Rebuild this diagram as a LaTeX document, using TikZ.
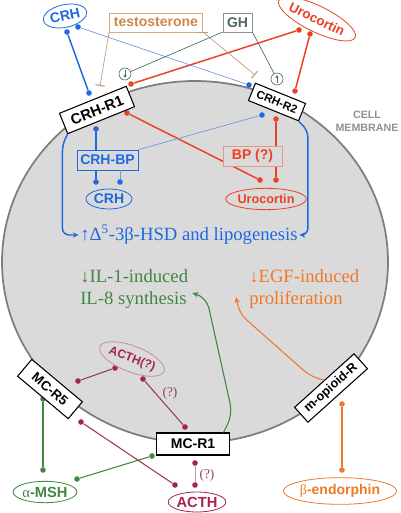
\documentclass[tikz,border=0pt]{standalone}
\usepackage{fontspec}
\setmainfont{Liberation Serif}
\setsansfont{Liberation Sans}
\usetikzlibrary{shapes.geometric,arrows.meta}
\definecolor{crhblue}{RGB}{30,105,225}
\definecolor{crhpale}{RGB}{110,150,225}
\definecolor{ucred}{RGB}{235,65,35}
\definecolor{bpframe}{RGB}{235,150,130}
\definecolor{testo}{RGB}{205,135,75}
\definecolor{testoframe}{RGB}{215,170,130}
\definecolor{ghcol}{RGB}{75,105,105}
\definecolor{msh}{RGB}{65,135,65}
\definecolor{endo}{RGB}{240,120,40}
\definecolor{acth}{RGB}{165,35,80}
\definecolor{acthline}{RGB}{150,60,90}
\definecolor{cellfill}{RGB}{218,218,218}
\definecolor{membrane}{RGB}{125,125,125}

\begin{document}
\begin{tikzpicture}[
  x=0.75pt,y=-0.75pt,
  receptor/.style={draw,fill=white,line width=0.8pt,inner sep=1pt},
  ligand/.style={ellipse,draw,line width=0.6pt,inner sep=0pt},
  bdot/.style={circle,fill,inner sep=0pt,minimum size=4.2pt},
  sans/.style={font=\sffamily\bfseries\fontsize{#1}{#1}\selectfont},
  ]
  \tikzset{%
    thickline/.style={line width=1.1pt},
    midline/.style={line width=0.8pt},
    thinline/.style={line width=0.5pt},
    tip/.style={-{Stealth[length=4.5pt,width=4pt]}},
    block/.style={-{Bar[width=7pt,line width=0.8pt]}},
  }
  \useasboundingbox (0,0) rectangle (400,513);
  %Cell
  \draw[fill=cellfill,draw=membrane,line width=1.3pt] (195,262) ellipse (193 and 181);
  \node[font=\sffamily\bfseries\fontsize{8}{10}\selectfont,text=membrane!85,align=center](cm) at (367,121){CELL\\MEMBRANE};
  %Dots
  \node[bdot,crhblue](b1) at (67,32){};
  \node[bdot,crhblue](b2) at (89,93){};
  \node[bdot,crhblue](b3) at (78,27){};
  \node[bdot,crhblue](b4) at (249,85){};
  \node[bdot,crhblue](b5) at (96,129){};
  \node[bdot,crhblue](b6) at (96,182){};
  \node[bdot,crhblue](b7) at (120,182){};
  \node[bdot,crhblue](b8) at (262,115){};
  \node[bdot,ucred](r1) at (299,30){};
  \node[bdot,ucred](r2) at (131,84){};
  \node[bdot,ucred](r3) at (310,34){};
  \node[bdot,ucred](r4) at (295,91){};
  \node[bdot,ucred](r5) at (127,113){};
  \node[bdot,ucred](r6) at (260,180){};
  \node[bdot,ucred](r7) at (276,119){};
  \node[bdot,ucred](r8) at (276,180){};
  \node[bdot,acth](m1) at (115,368){};
  \node[bdot,acth](m2) at (78,381){};
  \node[bdot,acth](m3) at (143,379){};
  \node[bdot,acth](m4) at (185,427){};
  \node[bdot,acth](m5) at (81,422){};
  \node[bdot,acth](m6) at (175,485){};
  \node[bdot,acth](m7) at (195,463){};
  \node[bdot,acth](m8) at (195,485){};
  \node[bdot,msh](g1) at (43,399){};
  \node[bdot,msh](g2) at (43,470){};
  \node[bdot,msh](g3) at (152,456){};
  \node[bdot,msh](g4) at (77,479){};
  \node[bdot,endo](o1) at (342,404){};
  \node[bdot,endo](o2) at (342,470){};
  \coordinate (tA) at (100,86);
  \coordinate (tB) at (255,75);
  \coordinate (egfin) at (236,297);
  %Lines between dots
  \draw[-, thickline]
    (b1) edge[crhblue] (b2)
    (r1) edge[ucred] (r2)
    (r3) edge[ucred] (r4)
    (r5) edge[ucred] (r6)
    (r7) edge[ucred] (r8)
    ;
  \draw[-, midline]
    (g1) edge[msh] (g2)
    (g3) edge[msh] (g4)
    (o1) edge[endo] (o2)
    (m1) edge[acthline] (m2)
    (m3) edge[acthline] (m4)
    (m5) edge[acthline] (m6)
    ;
  \draw[-, thinline]
    (b3) edge[crhpale] (b4)
    (m7) edge[acthline!55] (m8)
    ;
  %Nodes
  \node[ligand,sans=10.5,draw=crhblue,text=crhblue,minimum width=33pt,minimum height=17pt,rotate=12](crhOut) at (65,16){CRH};
  \node[draw=testoframe,sans=10.5,text=testo,minimum width=70pt,minimum height=14pt,inner sep=1pt](testo) at (156,22.5){testosterone};
  \node[draw=ghcol!70,sans=10.5,text=ghcol,minimum width=22pt,minimum height=14pt,inner sep=1pt](gh) at (237.5,22.5){GH};
  \node[ligand,sans=10,draw=ucred,text=ucred,minimum width=49.5pt,minimum height=19.5pt,rotate=-26](ucOut) at (317,19){Urocortin};
  \node[receptor,sans=11,minimum width=54pt,minimum height=16.5pt,rotate=22](crhrOne) at (97,110){CRH-R1};
  \node[receptor,sans=8.5,minimum width=40.5pt,minimum height=14pt,rotate=-22](crhrTwo) at (277,102){CRH-R2};
  \node[circle,draw=ghcol,fill=white,line width=0.5pt,minimum size=9pt,inner sep=0pt](sgDown) at (125,74){};
  \node[circle,draw=ghcol,fill=white,line width=0.5pt,minimum size=9pt,inner sep=0pt](sgUp) at (277,79){};
  \node[draw=crhblue,line width=0.5pt,sans=10.5,text=crhblue,minimum width=46pt,minimum height=15pt,inner sep=1pt](crhbp) at (107.5,160){CRH-BP};
  \node[ligand,sans=10.5,draw=crhblue,text=crhblue,minimum width=34.5pt,minimum height=15pt](crhIn) at (109,199){CRH};
  \node[draw=bpframe,fill=cellfill,line width=0.5pt,sans=10.5,text=ucred,minimum width=44pt,minimum height=15pt,inner sep=1pt](bp) at (252.5,156){BP (?)};
  \node[ligand,sans=9.5,draw=ucred,text=ucred,minimum width=50pt,minimum height=16pt](ucIn) at (266,199){Urocortin};
  \node[font=\fontsize{14}{16}\selectfont,text=crhblue,inner sep=1pt](hsd) at (189,235){↑Δ\textsuperscript{5}-3β-HSD and lipogenesis};
  \node[font=\fontsize{14}{16.5}\selectfont,text=msh,align=left,anchor=west,inner sep=0pt](il) at (80,289){↓IL-1-induced\\IL-8 synthesis};
  \node[font=\fontsize{14}{16.5}\selectfont,text=endo,align=left,anchor=west,inner sep=0pt](egf) at (249,289){↓EGF-induced\\proliferation};
  \node[ligand,sans=9,draw=acth!55,text=acth,minimum width=48pt,minimum height=19.5pt,rotate=-21](acthIn) at (132,359){ACTH(?)};
  \node[receptor,sans=10,minimum width=49.5pt,minimum height=16.5pt,rotate=-40](mcrFive) at (50,389){MC-R5};
  \node[receptor,sans=10.5,minimum width=55pt,minimum height=16.5pt](mcrOne) at (193,444){MC-R1};
  \node[receptor,sans=9.5,minimum width=60pt,minimum height=15pt,rotate=42](mop) at (331,388){m-opioid-R};
  \node[ligand,sans=11,draw=msh,text=msh,minimum width=45pt,minimum height=16pt](mshOut) at (45,492){{\mdseries\rmfamily α}-MSH};
  \node[ligand,sans=11,draw=acth,text=acth,minimum width=37.5pt,minimum height=15pt](acthOut) at (197,502){ACTH};
  \node[ligand,sans=10.5,draw=endo,text=endo,minimum width=75pt,minimum height=20pt](endoOut) at (340,491){{\mdseries\rmfamily β}-endorphin};
  \node[font=\fontsize{10}{12}\selectfont,text=acthline](qA) at (170,393){(?)};
  \node[font=\fontsize{10}{12}\selectfont,text=acthline](qB) at (207,475){(?)};
  %Lines to nodes
  \draw[-, thickline, crhblue]
    (b5) edge (b5 |- crhbp.north)
    (b6 |- crhbp.south) edge (b6)
    ;
  \draw[-, thinline, crhpale]
    (b7 |- crhbp.south) edge (b7)
    (b8) edge (crhbp.north east)
    ;
  \draw[thickline, crhblue, tip, rounded corners=5pt]
    (crhrOne.south west) -- ++(-5,10) |- (hsd.west);
  \draw[thickline, crhblue, tip, rounded corners=5pt]
    (crhrTwo.south east) -- ++(9,9) |- (hsd.east);
  \draw[thinline, testoframe!90!black, block]
    (testo.south west) edge (tA)
    (testo.south east) edge (tB)
    ;
  \draw[-, thinline, ghcol]
    (gh.south west) edge (sgDown)
    (gh.south east) edge (sgUp)
    ;
  \draw[ghcol,line width=0.5pt,-{Stealth[length=2.5pt,width=2.5pt]}] ([yshift=3pt]sgDown.center) -- ([yshift=-3pt]sgDown.center);
  \draw[ghcol,line width=0.5pt,-{Stealth[length=2.5pt,width=2.5pt]}] ([yshift=-3pt]sgUp.center) -- ([yshift=3pt]sgUp.center);
  \draw[midline, msh, tip, rounded corners=8pt]
    ([xshift=-5pt]mcrOne.north east) -- ++(9,-18) -- ++(-26,-117) -- ([yshift=-3pt,xshift=3pt]il.east);
  \draw[midline, endo, tip, rounded corners=6pt]
    (mop.north) -- (310,376) -- (240,314) -- (egfin);
\end{tikzpicture}
\end{document}
